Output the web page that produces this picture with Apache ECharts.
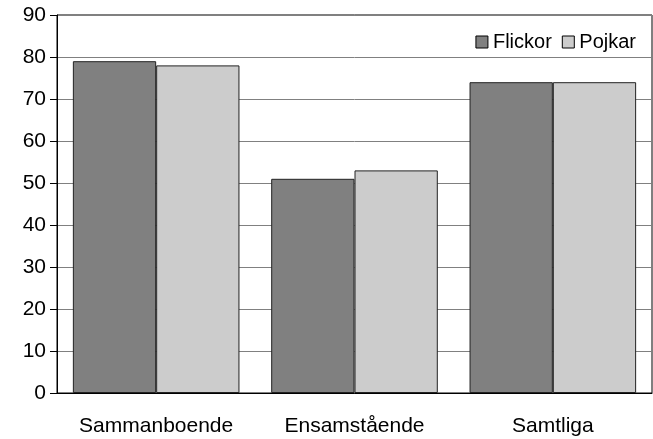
<!DOCTYPE html>
<html>
<head>
<meta charset="utf-8">
<script src="https://cdn.jsdelivr.net/npm/echarts@6/dist/echarts.min.js"></script>
<style>html,body{margin:0;padding:0;background:#fff}#c{width:653px;height:439px}</style>
</head>
<body>
<div id="c"></div>
<script>
var categories = ['Sammanboende', 'Ensamstående', 'Samtliga'];
var flickor = [79, 51, 74];
var pojkar = [78, 53, 74];
var yTicks = [0, 10, 20, 30, 40, 50, 60, 70, 80, 90];

var chart = echarts.init(document.getElementById('c'));
var font = '"Liberation Sans", Arial, sans-serif';
chart.setOption({
  animation: false,
  backgroundColor: '#fff',
  textStyle: {fontFamily: font},
  grid: {left: 57, right: 1, top: 15, bottom: 46, show: true, borderColor: '#000', borderWidth: 1, backgroundColor: 'transparent'},
  legend: {
    right: 12, top: 27, itemWidth: 12, itemHeight: 12, itemGap: 10, icon: 'rect',
    textStyle: {fontSize: 20, color: '#000', fontFamily: font},
    data: [
      {name: 'Flickor', itemStyle: {color: '#808080', borderColor: '#000', borderWidth: 1}},
      {name: 'Pojkar', itemStyle: {color: '#cccccc', borderColor: '#000', borderWidth: 1}}
    ]
  },
  xAxis: {
    type: 'category', data: categories,
    axisLine: {lineStyle: {color: '#000', width: 1}},
    axisTick: {show: false},
    axisLabel: {interval: 0, hideOverlap: false, fontSize: 21, color: '#000', margin: 23, fontFamily: font}
  },
  yAxis: {
    type: 'value', min: yTicks[0], max: yTicks[yTicks.length-1], interval: 10,
    axisLine: {show: true, lineStyle: {color: '#000', width: 1}},
    axisTick: {show: true, length: 7, lineStyle: {color: '#000'}},
    axisLabel: {fontSize: 21, color: '#000', margin: 11, fontFamily: font},
    splitLine: {lineStyle: {color: '#808080', width: 1}}
  },
  series: [
    {name: 'Flickor', type: 'bar', data: flickor, barGap: '0%', barCategoryGap: '16%',
     itemStyle: {color: '#808080', borderColor: '#222', borderWidth: 1}},
    {name: 'Pojkar', type: 'bar', data: pojkar, barGap: '0%', barCategoryGap: '16%',
     itemStyle: {color: '#cccccc', borderColor: '#222', borderWidth: 1}}
  ]
});
</script>
</body>
</html>
